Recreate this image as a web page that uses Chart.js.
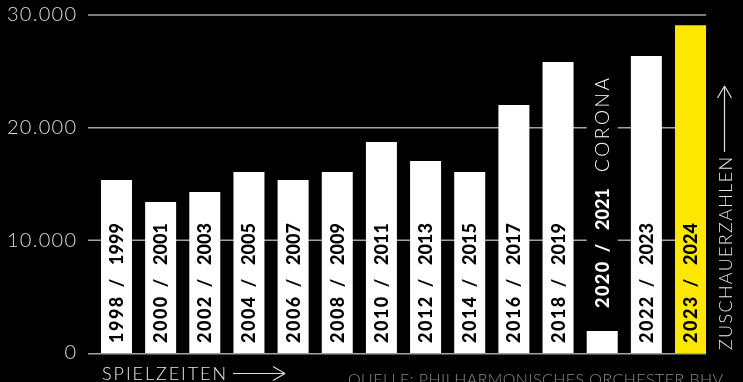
<!DOCTYPE html>
<html>
<head>
<meta charset="utf-8">
<script src="https://cdn.jsdelivr.net/npm/chart.js@4"></script>
<style>
  html, body { margin: 0; background: #000; }
  #c { display: block; }
</style>
</head>
<body>
<canvas id="c" width="743" height="382"></canvas>
<script>
// Spielzeiten und Zuschauerzahlen
const seasons = ['1998 / 1999', '2000 / 2001', '2002 / 2003', '2004 / 2005', '2006 / 2007', '2008 / 2009', '2010 / 2011',
  '2012 / 2013', '2014 / 2015', '2016 / 2017', '2018 / 2019', '2020 / 2021', '2022 / 2023', '2023 / 2024']
const visitors = [15350, 13400, 14290, 16060, 15350, 16060, 18720, 17040, 16060, 22010, 25820, 1950, 26350, 29100]
const notes = ['', '', '', '', '', '', '', '', '', '', '', 'CORONA', '', '']
const barColors = ['#fff', '#fff', '#fff', '#fff', '#fff', '#fff', '#fff', '#fff', '#fff', '#fff', '#fff', '#fff', '#fff', '#ffe800']
const yTicks = [0, 10000, 20000, 30000]
const yTickLabels = ['0', '10.000', '20.000', '30.000']
const xTitle = 'SPIELZEITEN'
const yTitle = 'ZUSCHAUERZAHLEN'
const source = 'QUELLE: PHILHARMONISCHES ORCHESTER BHV'

// letter spacing so a text fills a given length
function spaceTo(ctx, text, len) {
  ctx.letterSpacing = '0px'
  const w = ctx.measureText(text).width
  ctx.letterSpacing = ((len - w) / Math.max(1, text.length - 1)) + 'px'
}

function line(ctx, x1, y1, x2, y2) {
  ctx.beginPath(); ctx.moveTo(x1, y1); ctx.lineTo(x2, y2); ctx.stroke()
}

const decor = {
  id: 'decor',
  beforeDraw(chart) {
    // wider tick labels, the scale draws with this ctx state
    chart.ctx.letterSpacing = '1.3px'
  },
  beforeDatasetsDraw(chart) {
    const { ctx, chartArea: a, scales: { y } } = chart
    const meta = chart.getDatasetMeta(0)
    ctx.letterSpacing = '0px'
    ctx.save()
    ctx.strokeStyle = '#a3a3a3'
    ctx.lineWidth = 1.5
    yTicks.forEach(v => {
      if (!v) return
      const py = y.getPixelForValue(v)
      line(ctx, a.left - 6.5, py, a.right - 6.5, py)
    })
    // gap in the grid behind the note column
    ctx.fillStyle = '#000'
    notes.forEach((n, i) => {
      if (!n) return
      const b = meta.data[i]
      ctx.fillRect(b.x - b.width / 2, 68, b.width, b.base - 68)
    })
    ctx.restore()
  },
  afterDatasetsDraw(chart) {
    const { ctx, chartArea: a, scales: { y } } = chart
    const meta = chart.getDatasetMeta(0)
    ctx.save()
    ctx.strokeStyle = '#a3a3a3'
    ctx.lineWidth = 1.5
    const y0 = y.getPixelForValue(0) + 0.75
    line(ctx, a.left - 6.5, y0, a.right - 6.5, y0)

    const capH = 13
    meta.data.forEach((b, i) => {
      const [y1, y2] = seasons[i].split(' / ')
      const inside = b.base - b.y > 140
      const bottom = inside ? b.base - 10 : b.y - 23
      ctx.save()
      ctx.translate(b.x + capH / 2, bottom)
      ctx.rotate(-Math.PI / 2)
      ctx.fillStyle = inside ? '#000' : '#fff'
      ctx.font = '900 18px Lato'
      ctx.letterSpacing = '1.5px'
      ctx.textAlign = 'left'
      ctx.fillText(y1, 0, 0)
      ctx.letterSpacing = '0px'
      ctx.textAlign = 'center'
      ctx.fillText('/', 60, 0)
      ctx.textAlign = 'left'
      spaceTo(ctx, y2, 42)
      ctx.fillText(y2, 78, 0)
      if (notes[i]) {
        ctx.font = '300 19px Lato'
        spaceTo(ctx, notes[i], 94)
        ctx.fillText(notes[i], 136, 0)
      }
      ctx.restore()
    })
    ctx.restore()
  },
  afterDraw(chart) {
    const { ctx } = chart
    ctx.save()
    // x title + arrow
    ctx.fillStyle = '#e6e6e6'
    ctx.font = '300 18px Lato'
    spaceTo(ctx, xTitle, 124)
    ctx.fillText(xTitle, 102, 380)
    ctx.strokeStyle = '#ddd'
    ctx.lineWidth = 1.2
    line(ctx, 233, 373.5, 285, 373.5)
    line(ctx, 273, 366.5, 285, 373.5)
    line(ctx, 273, 380.5, 285, 373.5)

    // y title + arrow
    ctx.save()
    ctx.translate(731.5, 350)
    ctx.rotate(-Math.PI / 2)
    ctx.font = '300 18px Lato'
    spaceTo(ctx, yTitle, 193)
    ctx.fillText(yTitle, 0, 0)
    ctx.restore()
    line(ctx, 724.5, 152, 724.5, 86)
    line(ctx, 717.5, 98, 724.5, 86)
    line(ctx, 731.5, 98, 724.5, 86)

    // source
    ctx.fillStyle = '#8a8a8a'
    ctx.font = '300 16px Lato'
    spaceTo(ctx, source, 375)
    ctx.fillText(source, 348, 384.5)
    ctx.restore()
  }
}

new Chart(document.getElementById('c'), {
  type: 'bar',
  data: {
    labels: seasons,
    datasets: [{
      data: visitors,
      backgroundColor: barColors,
      borderWidth: 0,
      categoryPercentage: 1,
      barPercentage: 0.702
    }]
  },
  options: {
    responsive: false,
    devicePixelRatio: 1,
    animation: false,
    layout: { padding: { top: 15, right: 30.4, bottom: 29, left: 0 } },
    plugins: { legend: { display: false }, tooltip: { enabled: false } },
    scales: {
      x: { display: false },
      y: {
        min: 0, max: 30000,
        afterBuildTicks: s => { s.ticks = yTicks.map(v => ({ value: v })) },
        afterFit: s => { s.width = 94.4; s.paddingTop = 0; s.paddingBottom = 0 },
        grid: { display: false, drawTicks: false },
        border: { display: false },
        ticks: {
          padding: 17,
          color: '#ddd',
          font: { family: 'Lato', size: 20, weight: '300' },
          callback: v => yTickLabels[yTicks.indexOf(v)]
        }
      }
    }
  },
  plugins: [decor]
})
</script>
</body>
</html>
